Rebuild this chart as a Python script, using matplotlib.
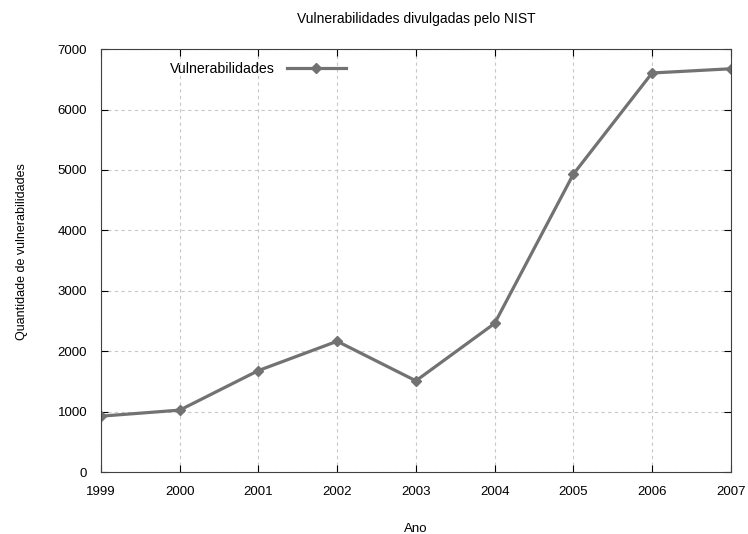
import matplotlib
matplotlib.use("Agg")
import matplotlib.pyplot as plt

### Valores
anos = [1999, 2000, 2001, 2002, 2003, 2004, 2005, 2006, 2007]
vulnerabilidades = [925, 1025, 1680, 2165, 1510, 2460, 4930, 6605, 6675]
yticks = [0, 1000, 2000, 3000, 4000, 5000, 6000, 7000]

plt.rcParams['font.family'] = ['Liberation Sans', 'DejaVu Sans']

fig = plt.figure(figsize=(7.48, 5.34), dpi=100)
ax = fig.add_axes([0.135, 0.116, 0.842, 0.792])

ax.plot(anos, vulnerabilidades, color='#727272', linewidth=2.3,
        marker='D', markersize=5.5, label='Vulnerabilidades')

ax.set_xlim(1999, 2007)
ax.set_ylim(0, 7000)
ax.set_xticks(anos)
ax.set_yticks(yticks)
ax.tick_params(direction='in', top=True, right=True, length=5,
               labelsize=9.5, pad=10, colors='black')
ax.grid(True, linestyle=(0, (3, 3)), color='#c8c8c8', linewidth=0.8)
for s in ax.spines.values():
    s.set_color('#404040')

ax.set_title('Vulnerabilidades divulgadas pelo NIST', fontsize=10, pad=19)
ax.set_xlabel('Ano', fontsize=9.5, labelpad=18)
ax.set_ylabel('Quantidade de vulnerabilidades', fontsize=9)
ax.yaxis.set_label_coords(-0.116, 0.522)

ax.legend(loc='upper left', bbox_to_anchor=(0.09, 1.0), frameon=False,
          markerfirst=False, fontsize=10.2, handlelength=4.2)

fig.savefig('out.png')
